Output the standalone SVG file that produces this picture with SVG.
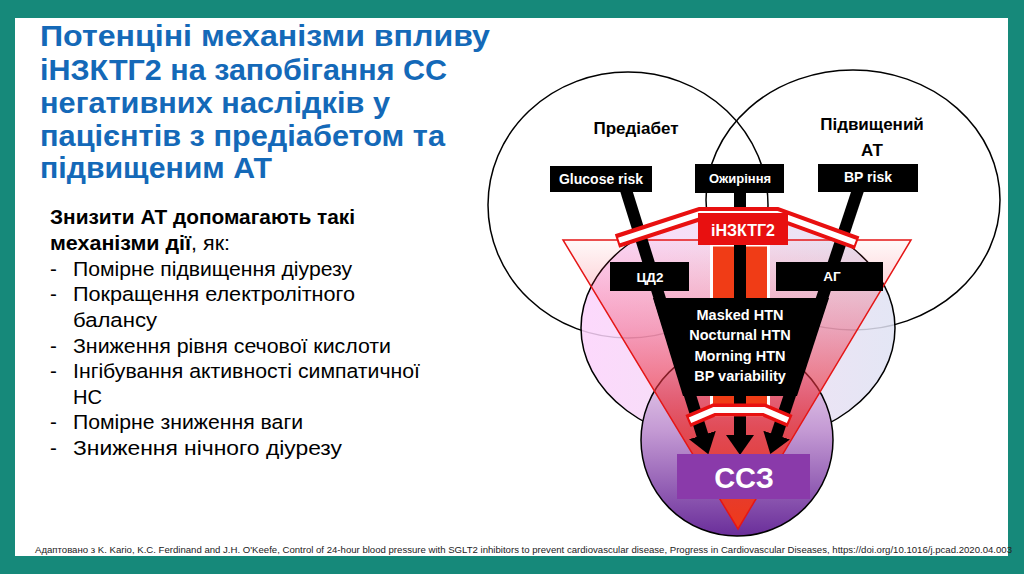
<svg xmlns="http://www.w3.org/2000/svg" width="1024" height="574" viewBox="0 0 1024 574">
<defs>
<style>
.t{font-family:"Liberation Sans",Arial,sans-serif;}
.title{font-family:"Liberation Sans",Arial,sans-serif;font-weight:bold;font-size:30px;fill:#1469b8;}
.body{font-family:"Liberation Sans",Arial,sans-serif;font-size:20.5px;fill:#000;}
.b{font-weight:bold;}
.box{fill:#000;}
.wl{font-family:"Liberation Sans",Arial,sans-serif;font-weight:bold;fill:#fff;text-anchor:middle;}
.lbl{font-family:"Liberation Sans",Arial,sans-serif;font-weight:bold;font-size:17px;fill:#000;text-anchor:middle;}
.shaft{stroke:#000;stroke-width:12;fill:none;}
</style>
<linearGradient id="ellG" x1="0" y1="0" x2="1" y2="0">
<stop offset="0" stop-color="#fcd2fc"/>
<stop offset="0.5" stop-color="#f0dcf2"/>
<stop offset="1" stop-color="#dfe2f3"/>
</linearGradient>
<linearGradient id="purG" x1="0" y1="0" x2="0" y2="1">
<stop offset="0" stop-color="#f4e2f4"/>
<stop offset="0.45" stop-color="#c49ad4"/>
<stop offset="1" stop-color="#6a2e9a"/>
</linearGradient>
<linearGradient id="triG" gradientUnits="userSpaceOnUse" x1="0" y1="240" x2="0" y2="529">
<stop offset="0" stop-color="#ff3040" stop-opacity="0.03"/>
<stop offset="0.3" stop-color="#ee3050" stop-opacity="0.35"/>
<stop offset="0.65" stop-color="#e83838" stop-opacity="0.8"/>
<stop offset="1" stop-color="#f03a18" stop-opacity="1"/>
</linearGradient>
<marker id="ah" markerUnits="userSpaceOnUse" markerWidth="30" markerHeight="30" refX="2" refY="14" orient="auto">
<path d="M0,0 L20,14 L0,28 Z" fill="#000"/>
</marker>
</defs>

<rect x="0" y="0" width="1024" height="574" fill="#16897a"/>
<rect x="15" y="18" width="993" height="538" fill="#fff"/>

<g id="title">
<text class="title" x="40" y="46" textLength="450" lengthAdjust="spacingAndGlyphs">Потенціні механізми впливу</text>
<text class="title" x="40" y="80" textLength="407" lengthAdjust="spacingAndGlyphs">іНЗКТГ2 на запобігання СС</text>
<text class="title" x="40" y="113" textLength="350" lengthAdjust="spacingAndGlyphs">негативних наслідків у</text>
<text class="title" x="40" y="146" textLength="405" lengthAdjust="spacingAndGlyphs">пацієнтів з предіабетом та</text>
<text class="title" x="40" y="178" textLength="232" lengthAdjust="spacingAndGlyphs">підвищеним АТ</text>
</g>

<g id="mechanisms">
<text class="body b" x="50" y="224" textLength="305" lengthAdjust="spacingAndGlyphs">Знизити АТ допомагають такі</text>
<text class="body" x="50" y="250" textLength="180" lengthAdjust="spacingAndGlyphs"><tspan class="b">механізми дії</tspan>, як:</text>
<text class="body" x="50" y="276">-</text><text class="body" x="73" y="276" textLength="279" lengthAdjust="spacingAndGlyphs">Помірне підвищення діурезу</text>
<text class="body" x="50" y="301">-</text><text class="body" x="73" y="301" textLength="282" lengthAdjust="spacingAndGlyphs">Покращення електролітного</text>
<text class="body" x="73" y="327" textLength="84" lengthAdjust="spacingAndGlyphs">балансу</text>
<text class="body" x="50" y="353">-</text><text class="body" x="73" y="353" textLength="318" lengthAdjust="spacingAndGlyphs">Зниження рівня сечової кислоти</text>
<text class="body" x="50" y="378">-</text><text class="body" x="73" y="378" textLength="347" lengthAdjust="spacingAndGlyphs">Інгібування активності симпатичної</text>
<text class="body" x="73" y="404" textLength="29" lengthAdjust="spacingAndGlyphs">НС</text>
<text class="body" x="50" y="429">-</text><text class="body" x="73" y="429" textLength="230" lengthAdjust="spacingAndGlyphs">Помірне зниження ваги</text>
<text class="body" x="50" y="455">-</text><text class="body" x="73" y="455" textLength="269" lengthAdjust="spacingAndGlyphs">Зниження нічного діурезу</text>
</g>

<g id="circle-prediabetes">
<ellipse cx="628" cy="205" rx="140" ry="133" fill="#fff"/>
</g>
<g id="circle-hypertension">
<ellipse cx="853" cy="200" rx="147" ry="130" fill="#fff"/>
</g>
<g id="circle-outlines">
<ellipse cx="628" cy="205" rx="140" ry="133" fill="none" stroke="#000" stroke-width="1.5"/>
<ellipse cx="853" cy="200" rx="147" ry="130" fill="none" stroke="#000" stroke-width="1.5"/>
</g>
<g id="ellipse-middle">
<ellipse cx="738" cy="328" rx="157" ry="117" fill="url(#ellG)" fill-opacity="0.85" stroke="#000" stroke-width="1.5"/>
</g>
<g id="circle-cvd">
<circle cx="737" cy="440" r="96" fill="url(#purG)" stroke="#000" stroke-width="1.5"/>
</g>
<g id="triangle">
<polygon points="563,240 911,240 738,529" fill="url(#triG)" stroke="#e51616" stroke-width="1.5"/>
</g>

<g id="sglt2-bars">
<rect x="711.5" y="245" width="57" height="170" fill="#f03c16" stroke="#fff" stroke-width="3"/>
</g>

<g id="funnel">
<polygon points="653,298 829,298 797,396 683,396" fill="#000"/>
</g>

<g id="connectors">
<line class="shaft" x1="626" y1="190" x2="703" y2="437" marker-end="url(#ah)"/>
<line class="shaft" x1="740" y1="190" x2="740" y2="437" marker-end="url(#ah)"/>
<line class="shaft" x1="858" y1="190" x2="776" y2="437" marker-end="url(#ah)"/>
</g>

<g id="funnel-text">
<text class="wl" x="740" y="320" font-size="14.5">Masked HTN</text>
<text class="wl" x="740" y="340" font-size="14.5">Nocturnal HTN</text>
<text class="wl" x="740" y="361" font-size="14.5">Morning HTN</text>
<text class="wl" x="740" y="381" font-size="14.5">BP variability</text>
</g>

<g id="label-prediabetes">
<text class="lbl" x="636" y="134">Предіабет</text>
</g>
<g id="label-hypertension">
<text class="lbl" x="872" y="130">Підвищений</text>
<text class="lbl" x="872" y="156">АТ</text>
</g>

<g id="node-glucose">
<rect class="box" x="550" y="166" width="102" height="26"/>
<text class="wl" x="601" y="184" font-size="14">Glucose risk</text>
</g>
<g id="node-obesity">
<rect class="box" x="695" y="164" width="89" height="29"/>
<text class="wl" x="740" y="183" font-size="13">Ожиріння</text>
</g>
<g id="node-bp">
<rect class="box" x="818" y="164" width="100" height="28"/>
<text class="wl" x="868" y="182" font-size="14">BP risk</text>
</g>
<g id="node-dm2">
<rect class="box" x="610" y="262" width="79" height="29"/>
<text class="wl" x="650" y="282" font-size="13.5">ЦД2</text>
</g>
<g id="node-ag">
<rect class="box" x="776" y="262" width="107" height="29"/>
<text class="wl" x="832" y="281" font-size="13.5">АГ</text>
</g>

<g id="chevron-top">
<polyline points="617,241 700,214 777,214 857,243" fill="none" stroke="#e81010" stroke-width="14" stroke-linejoin="miter"/>
<polyline points="619,240.5 700,214 777,214 855,242.5" fill="none" stroke="#fff" stroke-width="6" stroke-linejoin="miter"/>
</g>
<g id="node-sglt2">
<rect x="698" y="213" width="90" height="32" fill="#e81010"/>
<text class="wl" x="743" y="236" font-size="16">іНЗКТГ2</text>
</g>

<g id="chevron-bottom">
<polyline points="688,421 714,410 764,410 790,421" fill="none" stroke="#e81010" stroke-width="13" stroke-linejoin="miter"/>
<polyline points="690,420.2 714,410 764,410 788,420.2" fill="none" stroke="#fff" stroke-width="6" stroke-linejoin="miter"/>
</g>

<g id="node-cvd">
<rect x="677" y="454" width="133" height="45" fill="#8a3aaa"/>
<text class="wl" x="744" y="488" font-size="29">ССЗ</text>
</g>

<g id="footer">
<text class="t" x="35" y="553" font-size="9.5" fill="#222" textLength="977" lengthAdjust="spacingAndGlyphs">Адаптовано з K. Kario, K.C. Ferdinand and J.H. O'Keefe, Control of 24-hour blood pressure with SGLT2 inhibitors to prevent cardiovascular disease, Progress in Cardiovascular Diseases, https://doi.org/10.1016/j.pcad.2020.04.003</text>
</g>
</svg>
